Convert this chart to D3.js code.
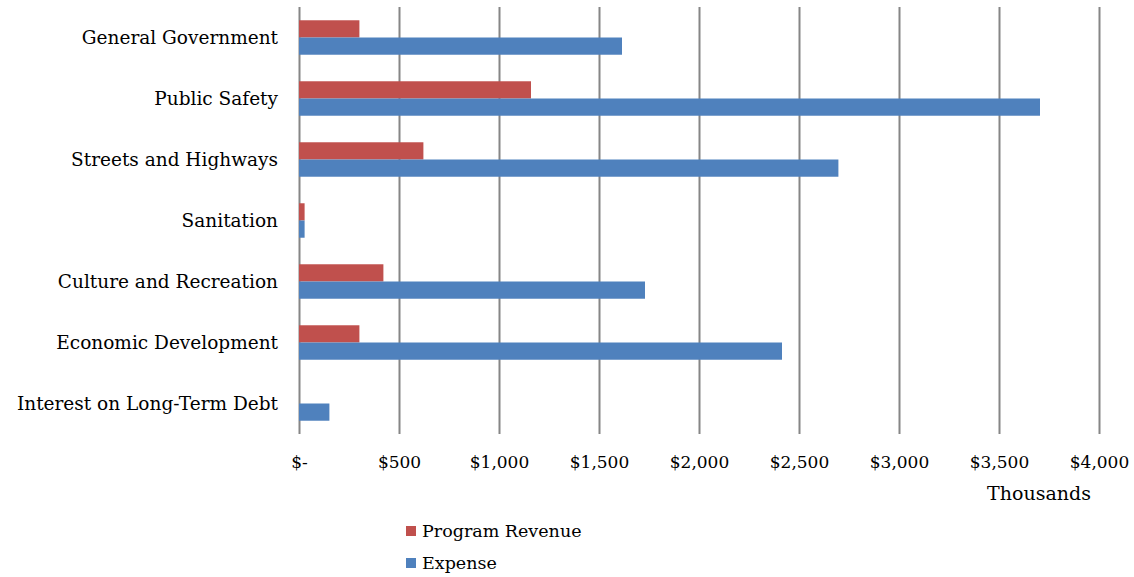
<!DOCTYPE html>
<html>
<head>
<meta charset="utf-8">
<script src="https://cdn.jsdelivr.net/npm/d3@7"></script>
<style>
  body { margin: 0; background: #fff; }
  svg text { font-family: "DejaVu Serif", serif; fill: #000; }
</style>
</head>
<body>
<div id="chart"></div>
<script>
// Data (thousands of dollars)
const categories = ["General Government", "Public Safety", "Streets and Highways", "Sanitation",
  "Culture and Recreation", "Economic Development", "Interest on Long-Term Debt"]
const seriesNames = ["Program Revenue", "Expense"]
const programRevenue = [302, 1160, 622, 28, 422, 302, 0]
const expense = [1615, 3705, 2697, 28, 1730, 2415, 152]
const tickValues = [0, 500, 1000, 1500, 2000, 2500, 3000, 3500, 4000]
const colors = ["#C0504D", "#4F81BD"]

var width = 1134, height = 577
var plot = {left: 299, right: 1099, top: 7, bottom: 434}

var svg = d3.select("#chart").append("svg")
    .attr("width", width)
    .attr("height", height)

var x = d3.scaleLinear()
    .domain([0, 4000])
    .range([plot.left, plot.right])

var y = d3.scaleBand()
    .domain(categories)
    .range([plot.top, plot.bottom])

var ySub = d3.scaleBand()
    .domain(seriesNames)
    .range([0, y.bandwidth()])
    .paddingInner(0)
    .paddingOuter(0.77)

// Gridlines (drawn from the x axis ticks)
var xAxis = d3.axisBottom(x)
    .tickValues(tickValues)
    .tickSize(-(plot.bottom - plot.top))
    .tickFormat(d => d === 0 ? "$-" : "$" + d3.format(",")(d))

var gx = svg.append("g")
    .attr("transform", "translate(0," + plot.bottom + ")")
    .call(xAxis)
    .attr("font-family", null)
gx.select(".domain").remove()
gx.selectAll(".tick line")
    .attr("stroke", "#868686")
    .attr("stroke-width", 2)
gx.selectAll(".tick text")
    .attr("y", 34)
    .attr("dy", 0)
    .attr("font-size", "17px")
    .attr("fill", "#000")

// Bars
var rows = categories.map((c, i) => ({cat: c, values: [programRevenue[i], expense[i]]}))

var groups = svg.append("g").selectAll("g")
    .data(rows)
  .enter().append("g")
    .attr("transform", d => "translate(0," + y(d.cat) + ")")

groups.selectAll("rect")
    .data(d => d.values.map((v, j) => ({name: seriesNames[j], value: v, j: j})))
  .enter().append("rect")
    .filter(d => d.value > 0)
    .attr("x", x(0))
    .attr("y", d => ySub(d.name))
    .attr("width", d => x(d.value) - x(0))
    .attr("height", ySub.bandwidth())
    .attr("fill", d => colors[d.j])

// Category labels
svg.append("g").selectAll("text")
    .data(categories)
  .enter().append("text")
    .attr("x", 278)
    .attr("y", d => y(d) + y.bandwidth() / 2)
    .attr("dy", "0.35em")
    .attr("text-anchor", "end")
    .attr("font-size", "18.5px")
    .text(d => d)

// Axis unit
svg.append("text")
    .attr("x", 1039)
    .attr("y", 500)
    .attr("text-anchor", "middle")
    .attr("font-size", "19px")
    .text("Thousands")

// Legend
var legend = svg.append("g").selectAll("g")
    .data(seriesNames)
  .enter().append("g")
    .attr("transform", (d, i) => "translate(406," + (531 + i * 32) + ")")

legend.append("rect")
    .attr("x", 0)
    .attr("y", -5)
    .attr("width", 10)
    .attr("height", 10)
    .attr("fill", (d, i) => colors[i])

legend.append("text")
    .attr("x", 16)
    .attr("y", 0)
    .attr("dy", "0.35em")
    .attr("font-size", "17.5px")
    .text(d => d)
</script>
</body>
</html>
